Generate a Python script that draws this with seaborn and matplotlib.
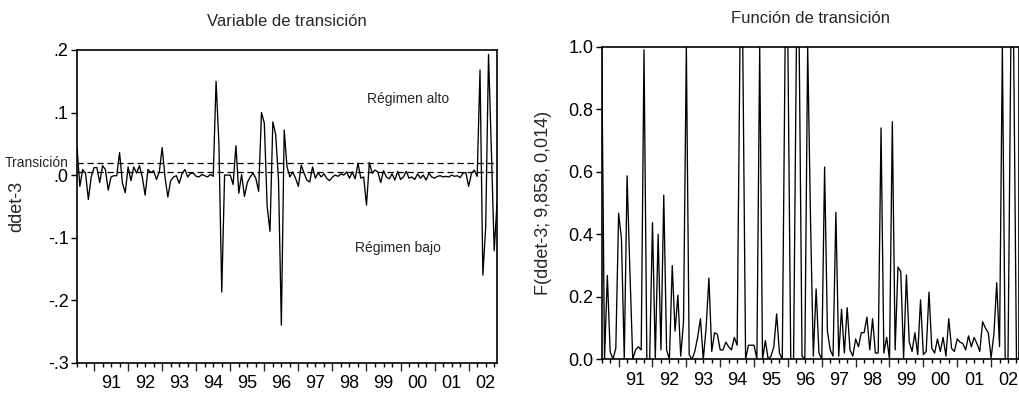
import numpy as np
import pandas as pd
import matplotlib
matplotlib.use("Agg")
import matplotlib.pyplot as plt
import seaborn as sns

# Monthly data, 1990M07 - 2002M11
dates = pd.date_range("1990-07-01", periods=149, freq="MS")

# transition variable ddet(-3)
ddet3 = [0.045, -0.018, 0.009, 0.003, -0.039, -0.003, 0.012, 0.012, -0.012, 0.015,
         0.009, -0.024, -0.003, -0.001, -0.001, 0.036, -0.013, -0.028, 0.013, -0.009,
         0.013, 0.003, 0.015, -0.003, -0.032, 0.009, 0.004, 0.007, -0.007, 0.005,
         0.044, -0.003, -0.035, -0.009, -0.003, -0.001, -0.013, 0.002, 0.009, -0.003,
         0.003, 0.003, -0.002, -0.003, 0.001, -0.001, -0.003, 0.001, -0.002, 0.150,
         0.050, -0.187, 0.000, 0.000, 0.000, -0.015, 0.047, -0.029, 0.001, -0.034,
         -0.012, -0.003, 0.003, -0.005, -0.026, 0.100, 0.083, -0.050, -0.090, 0.085,
         0.065, -0.008, -0.240, 0.072, 0.013, -0.003, 0.005, -0.005, -0.018, 0.016,
         0.003, -0.008, -0.011, 0.013, -0.005, 0.004, -0.003, 0.002, -0.005, -0.009,
         -0.003, 0.000, -0.002, 0.002, 0.000, 0.005, -0.005, 0.005, -0.006, 0.019,
         -0.005, -0.003, -0.048, 0.020, 0.003, 0.008, 0.005, -0.012, 0.007, -0.003,
         -0.006, 0.002, -0.008, 0.006, -0.007, -0.003, 0.006, -0.005, -0.003, -0.007,
         0.002, -0.005, 0.000, -0.008, 0.003, -0.003, -0.005, -0.002, -0.001, -0.003,
         -0.002, -0.003, 0.000, -0.002, -0.001, -0.004, 0.003, 0.004, -0.018, 0.003,
         0.008, -0.002, 0.168, -0.160, -0.083, 0.193, 0.040, -0.121, -0.044]

# transition function F(ddet-3; 9,858, 0,014)
trans_f = [1.0, 0.0, 0.268, 0.025, 0.0, 0.035, 0.467, 0.387, 0.003, 0.587,
           0.28, 0.0, 0.03, 0.04, 0.03, 0.99, 0.0, 0.0, 0.437, 0.005,
           0.40, 0.03, 0.525, 0.03, 0.0, 0.30, 0.09, 0.205, 0.01, 0.12,
           1.0, 0.015, 0.0, 0.025, 0.07, 0.13, 0.0, 0.10, 0.26, 0.025,
           0.085, 0.08, 0.03, 0.03, 0.055, 0.04, 0.03, 0.07, 0.045, 1.0,
           1.0, 0.0, 0.045, 0.045, 0.045, 0.0, 1.0, 0.0, 0.06, 0.0,
           0.01, 0.04, 0.145, 0.02, 0.0, 1.0, 1.0, 0.0, 0.0, 1.0,
           1.0, 0.01, 0.0, 1.0, 0.45, 0.01, 0.225, 0.02, 0.0, 0.615,
           0.09, 0.03, 0.01, 0.47, 0.01, 0.16, 0.02, 0.165, 0.03, 0.01,
           0.065, 0.04, 0.085, 0.085, 0.135, 0.03, 0.13, 0.02, 0.02, 0.74,
           0.02, 0.07, 0.0, 0.76, 0.03, 0.295, 0.28, 0.005, 0.27, 0.055,
           0.025, 0.085, 0.015, 0.19, 0.015, 0.025, 0.215, 0.035, 0.02, 0.065,
           0.025, 0.07, 0.01, 0.13, 0.035, 0.025, 0.065, 0.055, 0.05, 0.03,
           0.075, 0.04, 0.07, 0.05, 0.025, 0.12, 0.10, 0.085, 0.005, 0.08,
           0.245, 0.04, 1.0, 0.0, 0.0, 1.0, 1.0, 0.0, 0.0]

# bands drawn on the transition variable
band_levels = [0.020, 0.005]

year_labels = ["91", "92", "93", "94", "95", "96", "97", "98", "99", "00", "01", "02"]
left_yticks = [0.2, 0.1, 0.0, -0.1, -0.2, -0.3]
left_ylabels = [".2", ".1", ".0", "-.1", "-.2", "-.3"]
right_yticks = [0.0, 0.2, 0.4, 0.6, 0.8, 1.0]
right_ylabels = ["0.0", "0.2", "0.4", "0.6", "0.8", "1.0"]

df = pd.DataFrame({"t": dates.year + (dates.month - 1) / 12.0,
                   "ddet3": ddet3, "F": trans_f})

sns.set_theme(style="ticks")
plt.rcParams["font.family"] = ["Liberation Sans", "DejaVu Sans"]
plt.rcParams["axes.linewidth"] = 1.2

fig = plt.figure(figsize=(10.2, 3.94), dpi=100)
ax1 = fig.add_axes([0.0755, 0.0794, 0.4118, 0.7937])
ax2 = fig.add_axes([0.5899, 0.0881, 0.4094, 0.7934])

x0, x1 = df["t"].iloc[0], df["t"].iloc[-1]
years = np.arange(1991, 2003)
quarters = [q for q in np.arange(x0, x1 + 0.01, 0.25) if abs(q - round(q)) > 0.01]
qlabels = []
for q in quarters:
    if abs(q - np.floor(q) - 0.5) < 0.01 and int(np.floor(q)) in years:
        qlabels.append(year_labels[int(np.floor(q)) - 1991])
    else:
        qlabels.append("")


def style_time_axis(ax):
    ax.set_xlim(x0, x1)
    ax.set_xticks(years, labels=[""] * len(years))
    ax.set_xticks(quarters, labels=qlabels, minor=True)
    ax.tick_params(axis="x", which="major", length=6, width=1.0, direction="out")
    ax.tick_params(axis="x", which="minor", length=3, width=1.0, direction="out",
                   labelsize=13, pad=6, colors="black")
    ax.tick_params(axis="y", length=4, width=1.0, direction="out", labelsize=13,
                   pad=2, colors="black")
    for s in ax.spines.values():
        s.set_visible(True)
        s.set_color("black")
        s.set_linewidth(1.2)
    ax.set_xlabel("")


# left panel: transition variable
sns.lineplot(data=df, x="t", y="ddet3", ax=ax1, color="black", linewidth=0.95)
for lv in band_levels:
    ax1.axhline(lv, color="black", linestyle=(0, (5, 3)), linewidth=0.9)
ax1.set_ylim(-0.3, 0.2)
ax1.set_yticks(left_yticks, labels=left_ylabels)
style_time_axis(ax1)
ax1.set_title("Variable de transición", fontsize=12, pad=17)
ax1.set_ylabel("ddet-3", fontsize=13)
ax1.yaxis.set_label_coords(-0.124, 0.5)
ax1.annotate("Transición", xy=(-0.172, 0.019), xycoords=("axes fraction", "data"),
             ha="left", va="center", fontsize=10, annotation_clip=False)
ax1.text(2000.21, 0.1216, "Régimen alto", ha="center", va="center", fontsize=10)
ax1.text(1999.92, -0.117, "Régimen bajo", ha="center", va="center", fontsize=10)

# right panel: transition function
sns.lineplot(data=df, x="t", y="F", ax=ax2, color="black", linewidth=0.95)
ax2.set_ylim(0.0, 1.0)
ax2.set_yticks(right_yticks, labels=right_ylabels)
style_time_axis(ax2)
ax2.set_title("Función de transición", fontsize=12, pad=17)
ax2.set_ylabel("F(ddet-3; 9,858, 0,014)", fontsize=13)
ax2.yaxis.set_label_coords(-0.12, 0.5)

fig.savefig("out.png", dpi=100)
